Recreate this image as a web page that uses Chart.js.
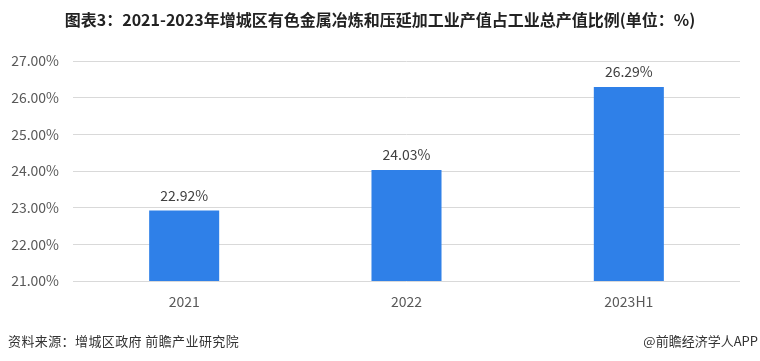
<!DOCTYPE html>
<html>
<head>
<meta charset="utf-8">
<script src="https://cdn.jsdelivr.net/npm/chart.js@4/dist/chart.umd.min.js"></script>
<style>
  body { margin: 0; background: #fff; }
  #wrap { position: relative; width: 760px; height: 361px; overflow: hidden; }
  #title {
    position: absolute; left: 0; width: 760px; top: 7px; text-align: center; white-space: nowrap;
    font: bold 16px "Noto Sans CJK SC", sans-serif; color: #222; line-height: 24px;
  }
  .foot { position: absolute; top: 331px; font: 13px "Noto Sans CJK SC", sans-serif; color: #333; white-space: nowrap; line-height: 20px; }
  #src { left: 8px; letter-spacing: 0.4px; }
  #app { right: 2px; }
  canvas { position: absolute; left: 0; top: 0; }
</style>
</head>
<body>
<div id="wrap">
  <canvas id="myChart" width="760" height="361"></canvas>
  <div id="title">图表3：2021-2023年增城区有色金属冶炼和压延加工业产值占工业总产值比例(单位：%)</div>
  <div class="foot" id="src">资料来源：增城区政府 前瞻产业研究院</div>
  <div class="foot" id="app">@前瞻经济学人APP</div>
</div>
<script>
var years = ["2021", "2022", "2023H1"];
var shares = [22.92, 24.03, 26.29];
var yMin = 21;
var yMax = 27;

// labels above bars
var barLabels = {
  id: 'barLabels',
  afterDatasetsDraw: function (chart) {
    var ctx = chart.ctx;
    var meta = chart.getDatasetMeta(0);
    ctx.save();
    ctx.font = '14px "Noto Sans CJK SC", sans-serif';
    ctx.fillStyle = '#404040';
    ctx.textAlign = 'center';
    ctx.textBaseline = 'bottom';
    meta.data.forEach(function (bar, i) {
      ctx.fillText(shares[i].toFixed(2) + '%', bar.x, bar.y - 8);
    });
    ctx.restore();
  }
};

new Chart("myChart", {
  type: "bar",
  data: {
    labels: years,
    datasets: [{
      data: shares,
      backgroundColor: '#2f80e8',
      categoryPercentage: 1,
      barPercentage: 0.315
    }]
  },
  options: {
    responsive: false,
    animation: false,
    layout: { padding: { top: 61, right: 20, left: 0, bottom: 0 } },
    plugins: { legend: { display: false }, tooltip: { enabled: false } },
    scales: {
      x: {
        grid: { display: false },
        border: { display: false },
        ticks: { padding: 4, color: '#595959', font: { size: 14, family: '"Noto Sans CJK SC", sans-serif' } },
        afterFit: function (s) { s.height = 80; }
      },
      y: {
        min: yMin,
        max: yMax,
        grid: { color: '#d9d9d9', drawTicks: false },
        border: { display: false },
        ticks: {
          stepSize: 1,
          padding: 14,
          color: '#595959',
          font: { size: 14, family: '"Noto Sans CJK SC", sans-serif' },
          callback: function (v) { return v.toFixed(2) + '%'; }
        },
        afterFit: function (s) { s.width = 73; }
      }
    }
  },
  plugins: [barLabels]
});
</script>
</body>
</html>
